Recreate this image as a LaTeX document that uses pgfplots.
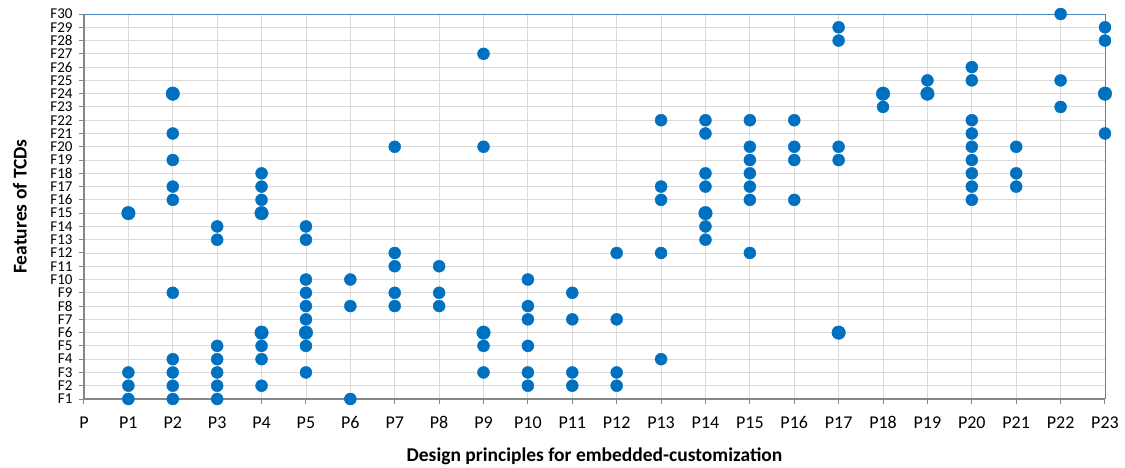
\documentclass[border=0pt]{standalone}
\usepackage{pgfplots}
\pgfplotsset{compat=1.18}
\usepackage{fontspec}
\setmainfont{Carlito}

\definecolor{dotblue}{HTML}{0070C0}
\definecolor{axgray}{HTML}{868686}
\definecolor{gridgray}{HTML}{D9D9D9}
\definecolor{frameblue}{HTML}{4F81BD}

% x = principle index (P = 0), y = feature index
\pgfplotstableread{
x y
1 3
1 2
1 1
2 21
2 19
2 17
2 16
2 9
2 4
2 3
2 2
2 1
3 14
3 13
3 5
3 4
3 3
3 2
3 1
4 18
4 17
4 16
4 5
4 4
4 2
5 14
5 13
5 10
5 9
5 8
5 7
5 5
5 3
6 10
6 8
6 1
7 20
7 12
7 11
7 9
7 8
8 11
8 9
8 8
9 27
9 20
9 5
9 3
10 10
10 8
10 7
10 5
10 3
10 2
11 9
11 7
11 3
11 2
12 12
12 7
12 3
12 2
13 22
13 17
13 16
13 12
13 4
14 22
14 21
14 18
14 17
14 14
14 13
15 22
15 20
15 19
15 18
15 17
15 16
15 12
16 22
16 20
16 19
16 16
17 29
17 28
17 20
17 19
18 23
19 25
20 26
20 25
20 22
20 21
20 20
20 19
20 18
20 17
20 16
21 20
21 18
21 17
22 30
22 25
22 23
23 29
23 28
23 21
}\single

% points drawn larger in the original
\pgfplotstableread{
x y
1 15
2 24
4 15
4 6
5 6
9 6
14 15
17 6
18 24
19 24
23 24
}\double

\begin{document}
\begin{tikzpicture}
\path[use as bounding box] (-84pt,-68pt) rectangle (1041pt,399pt);
\begin{axis}[
  scale only axis,
  width=1021pt, height=385pt,
  xmin=0, xmax=23, ymin=1, ymax=30,
  xtick={0,...,23},
  xticklabels={P,P1,P2,P3,P4,P5,P6,P7,P8,P9,P10,P11,P12,P13,P14,P15,P16,P17,P18,P19,P20,P21,P22,P23},
  ytick={1,...,30},
  yticklabels={F1,F2,F3,F4,F5,F6,F7,F8,F9,F10,F11,F12,F13,F14,F15,F16,F17,F18,F19,F20,F21,F22,F23,F24,F25,F26,F27,F28,F29,F30},
  tick label style={text=black},
  xticklabel style={font=\fontsize{18}{20}\selectfont, yshift=-9pt},
  yticklabel style={font=\fontsize{15}{16}\selectfont, xshift=-3pt},
  tick align=outside, tick pos=left,
  major tick length=5pt,
  tick style={axgray, line width=1pt},
  grid=major,
  grid style={gridgray, line width=0.9pt},
  axis x line*=bottom, axis y line*=left,
  axis line style={axgray, line width=1.6pt, -},
  xlabel={Design principles for embedded-customization},
  ylabel={Features of TCDs},
  label style={font=\bfseries\fontsize{19.5}{22}\selectfont},
  xlabel style={at={(axis description cs:0.5,0)}, anchor=center, yshift=-57pt},
  ylabel style={at={(axis description cs:-0.0627,0.5)}, anchor=center},
  clip=false,
]
\draw[frameblue, line width=0.9pt] (rel axis cs:0,1) -- (rel axis cs:1,1) -- (rel axis cs:1,0);
\addplot[only marks, mark=*, mark size=6pt, dotblue, mark options={draw=dotblue, fill=dotblue}] table[x=x, y=y] {\single};
\addplot[only marks, mark=*, mark size=6.8pt, dotblue, mark options={draw=dotblue, fill=dotblue}] table[x=x, y=y] {\double};
\end{axis}
\end{tikzpicture}
\end{document}
